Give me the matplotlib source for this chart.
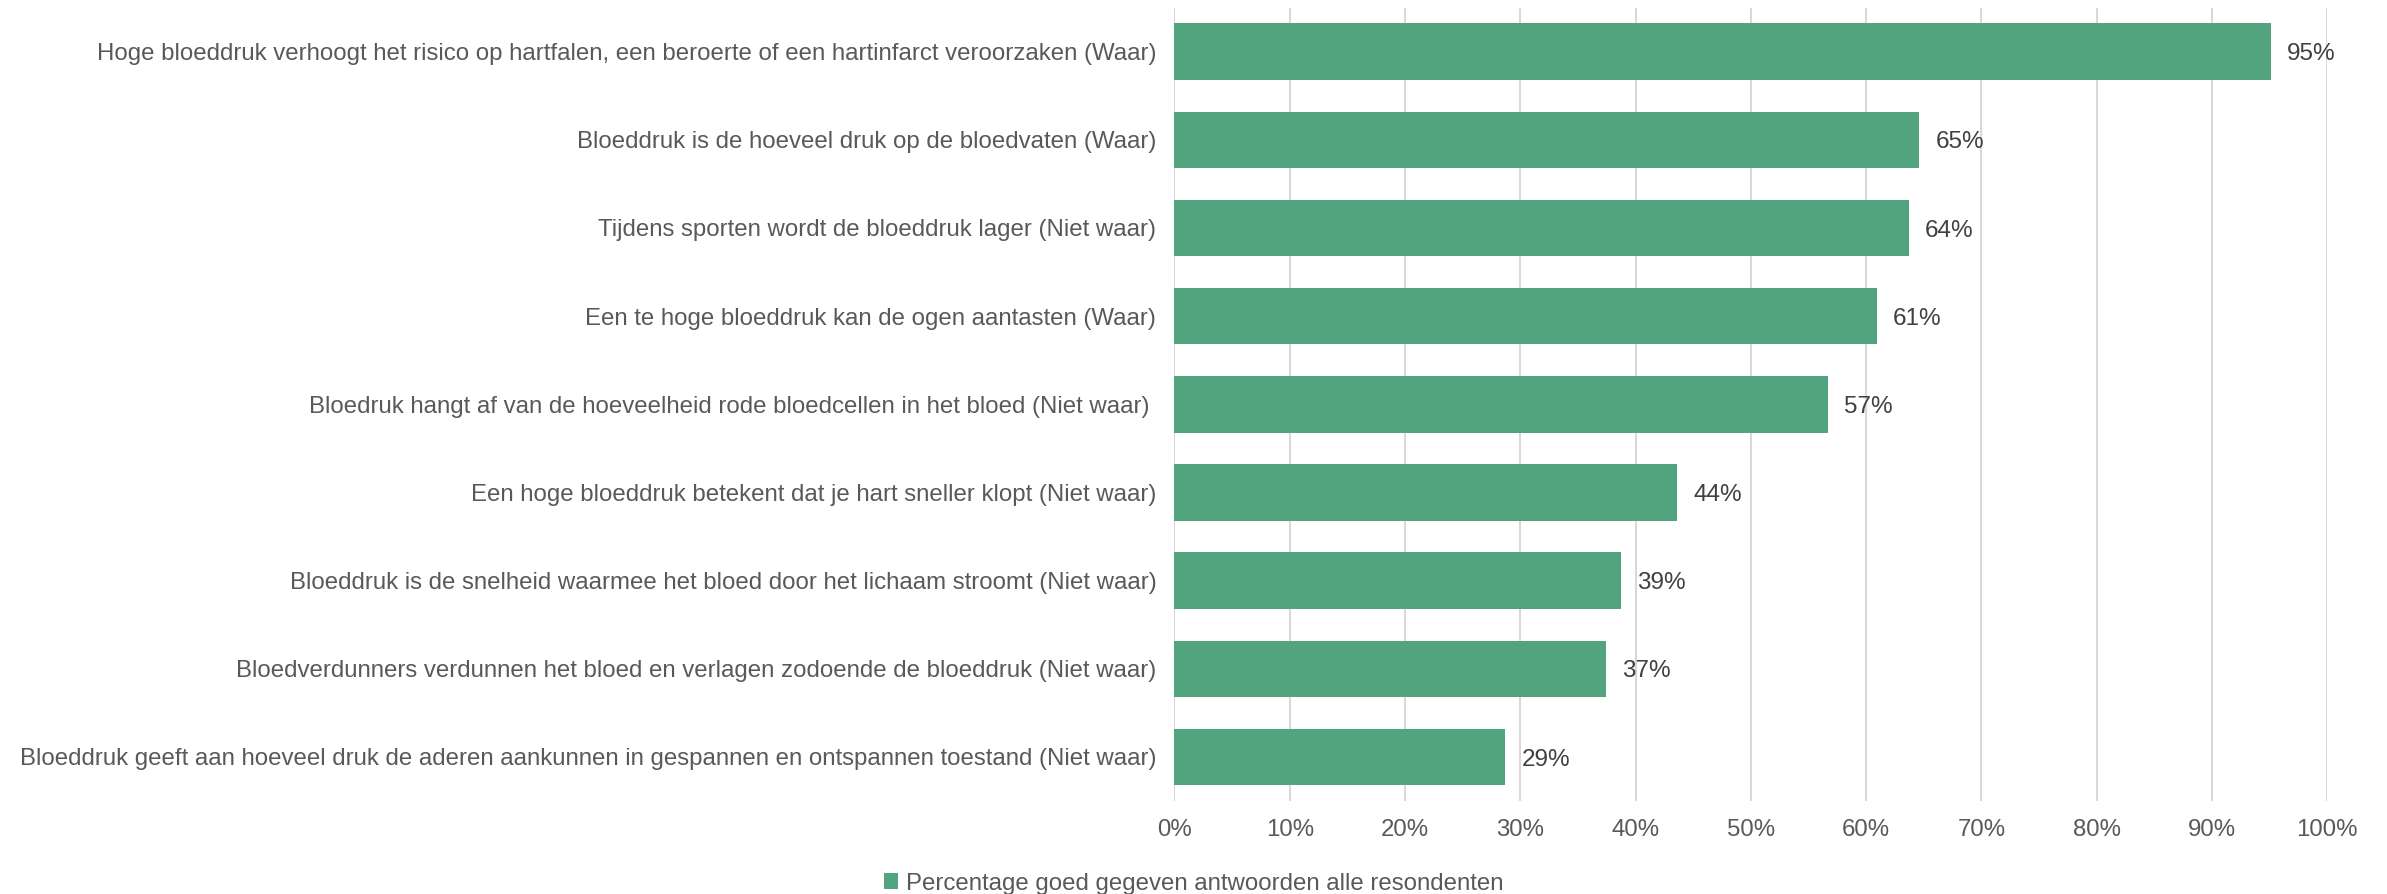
import matplotlib.pyplot as plt
from matplotlib.ticker import PercentFormatter

plt.rcParams['font.family'] = ['Liberation Sans', 'DejaVu Sans']

statements = [
    "Hoge bloeddruk verhoogt het risico op hartfalen, een beroerte of een hartinfarct veroorzaken (Waar)",
    "Bloeddruk is de hoeveel druk op de bloedvaten (Waar)",
    "Tijdens sporten wordt de bloeddruk lager (Niet waar)",
    "Een te hoge bloeddruk kan de ogen aantasten (Waar)",
    "Bloedruk hangt af van de hoeveelheid rode bloedcellen in het bloed (Niet waar) ",
    "Een hoge bloeddruk betekent dat je hart sneller klopt (Niet waar)",
    "Bloeddruk is de snelheid waarmee het bloed door het lichaam stroomt (Niet waar)",
    "Bloedverdunners verdunnen het bloed en verlagen zodoende de bloeddruk (Niet waar)",
    "Bloeddruk geeft aan hoeveel druk de aderen aankunnen in gespannen en ontspannen toestand (Niet waar)",
]
correct = [0.951, 0.646, 0.637, 0.609, 0.567, 0.436, 0.387, 0.374, 0.287]
series_name = "Percentage goed gegeven antwoorden alle resondenten"

green = "#52a47f"
label_grey = "#595959"

fig = plt.figure(figsize=(23.87, 8.94), dpi=100)
ax = fig.add_axes([0.492, 0.104, 0.483, 0.8875])

ypos = range(len(statements))
ax.barh(ypos, correct, height=0.64, color=green, label=series_name)
for y, v in zip(ypos, correct):
    ax.text(v + 0.014, y + 0.03, f"{round(v * 100)}%", va="center", ha="left",
            fontsize=17.5, color="#404040")

ax.set_xlim(0, 1)
ax.set_ylim(len(statements) - 0.5, -0.5)
ax.set_yticks(list(ypos))
ax.set_yticklabels(statements, fontsize=17.3, color=label_grey)
ax.set_xticks([i / 10 for i in range(11)])
ax.xaxis.set_major_formatter(PercentFormatter(1.0, decimals=0))
ax.tick_params(axis="x", labelsize=17.3, labelcolor=label_grey, length=0, pad=13)
ax.tick_params(axis="y", length=0, pad=13)

ax.grid(axis="x", color="#d9d9d9", linewidth=1.5)
ax.set_axisbelow(True)
for side in ["top", "right", "bottom", "left"]:
    ax.spines[side].set_visible(False)

fig.legend(loc="lower center", bbox_to_anchor=(0.5, -0.014), borderaxespad=0.1,
           frameon=False, fontsize=17.3, labelcolor=label_grey,
           handlelength=0.6, handleheight=0.6, handletextpad=0.3)

fig.savefig("out.png", dpi=100)
